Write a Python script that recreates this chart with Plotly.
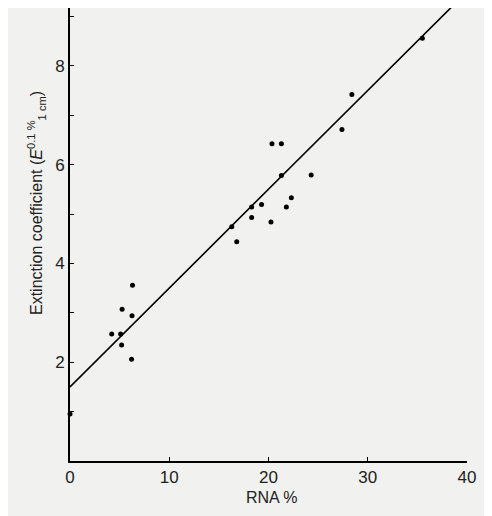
import plotly.graph_objects as go

# RNA content (%) and extinction coefficient
rna_pct = [0.0, 4.2, 5.1, 5.2, 5.25, 6.3, 6.25, 6.2,
           16.3, 16.8, 18.3, 18.3, 19.3, 20.25, 21.8, 22.3,
           21.3, 24.3, 20.35, 21.3, 27.4, 28.4, 35.5]
extinction = [0.95, 2.57, 2.57, 2.35, 3.07, 3.56, 2.94, 2.06,
              4.74, 4.44, 5.14, 4.93, 5.19, 4.84, 5.14, 5.33,
              5.78, 5.79, 6.42, 6.42, 6.71, 7.42, 8.56]

# fitted line endpoints
fit_x = [0, 40]
fit_y = [1.5, 9.5]

y_ticks = [2, 4, 6, 8]
y_minor = [1, 3, 5, 7, 9]
x_ticks = [0, 10, 20, 30, 40]

fig = go.Figure()
fig.add_trace(go.Scatter(x=fit_x, y=fit_y, mode="lines",
                         line=dict(color="black", width=1.6)))
fig.add_trace(go.Scatter(x=rna_pct, y=extinction, mode="markers", cliponaxis=False,
                         marker=dict(color="black", size=5)))

axis_style = dict(showline=True, linecolor="black", linewidth=2,
                  ticks="inside", ticklen=4, tickcolor="black",
                  showgrid=False, zeroline=False,
                  tickfont=dict(size=17, color="#222"))

fig.update_layout(
    width=492, height=516,
    margin=dict(l=62, r=33, t=0, b=63),
    paper_bgcolor="#f1f1ef", plot_bgcolor="#f1f1ef",
    showlegend=False,
    font=dict(family="Liberation Sans, Arial, sans-serif", color="#222"),
    xaxis=dict(range=[0, 40], tickvals=x_ticks, **axis_style),
    yaxis=dict(range=[0, 9.17], tickvals=y_ticks,
               minor=dict(tickvals=y_minor, ticks="inside", ticklen=4, tickcolor="black"),
               **axis_style),
)
fig.add_annotation(text="RNA %", xref="paper", yref="paper", x=0.51, y=-0.08,
                   showarrow=False, font=dict(size=16), yanchor="middle")
fig.add_annotation(text="Extinction coefficient (<i>E</i><sup>0.1 %</sup><sub>1 cm</sub>)",
                   xref="paper", yref="paper", x=-0.085, y=0.57, textangle=-90,
                   showarrow=False, font=dict(size=16), xanchor="center")
fig.write_html("out.html")
